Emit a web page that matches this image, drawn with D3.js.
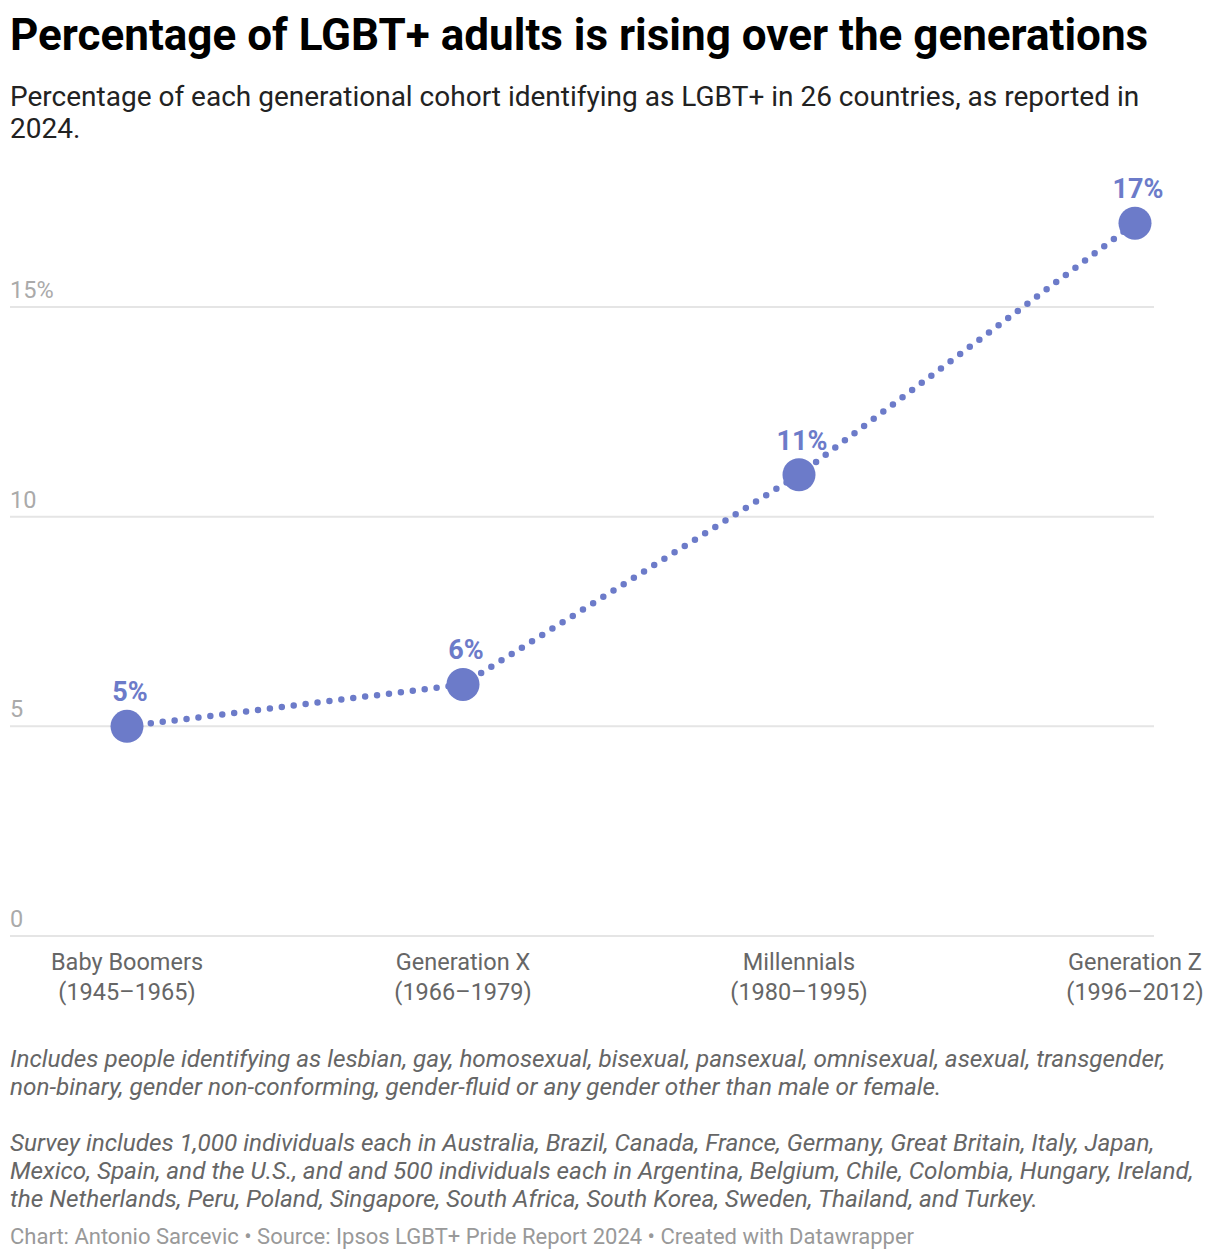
<!DOCTYPE html>
<html>
<head>
<meta charset="utf-8">
<script src="https://cdn.jsdelivr.net/npm/d3@7"></script>
<style>
  body { margin: 0; background: #fff; font-family: Roboto, "Noto Sans", sans-serif; }
</style>
</head>
<body>
<div id="chart"></div>
<script>
// data
const generations = ["Baby Boomers", "Generation X", "Millennials", "Generation Z"];
const years = ["(1945–1965)", "(1966–1979)", "(1980–1995)", "(1996–2012)"];
const shares = [5, 6, 11, 17];
const yTicks = [0, 5, 10, 15];

const title = "Percentage of LGBT+ adults is rising over the generations";
const subtitle = ["Percentage of each generational cohort identifying as LGBT+ in 26 countries, as reported in", "2024."];
const notes = [
  ["Includes people identifying as lesbian, gay, homosexual, bisexual, pansexual, omnisexual, asexual, transgender,",
   "non-binary, gender non-conforming, gender-fluid or any gender other than male or female."],
  ["Survey includes 1,000 individuals each in Australia, Brazil, Canada, France, Germany, Great Britain, Italy, Japan,",
   "Mexico, Spain, and the U.S., and and 500 individuals each in Argentina, Belgium, Chile, Colombia, Hungary, Ireland,",
   "the Netherlands, Peru, Poland, Singapore, South Africa, South Korea, Sweden, Thailand, and Turkey."]
];
const credit = "Chart: Antonio Sarcevic • Source: Ipsos LGBT+ Pride Report 2024 • Created with Datawrapper";

const W = 1220, H = 1260;
const color = "#6c7bc9";

const svg = d3.select("#chart").append("svg")
  .attr("width", W)
  .attr("height", H);

// header
svg.append("text")
  .attr("x", 10).attr("y", 50)
  .attr("font-size", 44).attr("font-weight", 700).attr("fill", "#000")
  .text(title);

svg.append("g").selectAll("text")
  .data(subtitle).join("text")
  .attr("x", 10).attr("y", (d, i) => 106 + i * 32)
  .attr("font-size", 28).attr("fill", "#222")
  .text(d => d);

// scales
const x = d3.scalePoint()
  .domain(generations)
  .range([127, 1135]);

const y = d3.scaleLinear()
  .domain([0, 15])
  .range([936, 307]);

// grid
const grid = svg.append("g");
grid.selectAll("line")
  .data(yTicks).join("line")
  .attr("x1", 10).attr("x2", 1154)
  .attr("y1", d => y(d)).attr("y2", d => y(d))
  .attr("stroke", "#e5e5e5")
  .attr("stroke-width", 2);

grid.selectAll("text")
  .data(yTicks).join("text")
  .attr("x", 10).attr("y", d => y(d) - 9)
  .attr("font-size", 23.5).attr("fill", "#aaa")
  .text(d => d === 15 ? d + "%" : d);

// x labels
const xl = svg.append("g").selectAll("text")
  .data(generations).join("text")
  .attr("text-anchor", "middle")
  .attr("font-size", 23.5).attr("fill", "#666");
xl.append("tspan")
  .attr("x", d => x(d)).attr("y", 970)
  .text(d => d);
xl.append("tspan")
  .attr("x", d => x(d)).attr("y", 1000)
  .text((d, i) => years[i]);

// line
const line = d3.line()
  .x((d, i) => x(generations[i]))
  .y(d => y(d));

svg.append("path")
  .datum(shares)
  .attr("d", line)
  .attr("fill", "none")
  .attr("stroke", color)
  .attr("stroke-width", 6.5)
  .attr("stroke-linecap", "round")
  .attr("stroke-dasharray", "0 12");

svg.append("g").selectAll("circle")
  .data(shares).join("circle")
  .attr("cx", (d, i) => x(generations[i]))
  .attr("cy", d => y(d))
  .attr("r", 16.5)
  .attr("fill", color);

svg.append("g").selectAll("text")
  .data(shares).join("text")
  .attr("x", (d, i) => x(generations[i]) + 3)
  .attr("y", d => y(d) - 25)
  .attr("text-anchor", "middle")
  .attr("font-size", 27).attr("font-weight", 700)
  .attr("fill", color)
  .text(d => d + "%");

// notes
let ny = 1067;
notes.forEach(par => {
  par.forEach(t => {
    svg.append("text")
      .attr("x", 10).attr("y", ny)
      .attr("font-size", 24.3).attr("font-style", "italic").attr("fill", "#666")
      .text(t);
    ny += 28;
  });
  ny += 28;
});

svg.append("text")
  .attr("x", 10).attr("y", 1244)
  .attr("font-size", 22).attr("fill", "#999")
  .text(credit);
</script>
</body>
</html>
